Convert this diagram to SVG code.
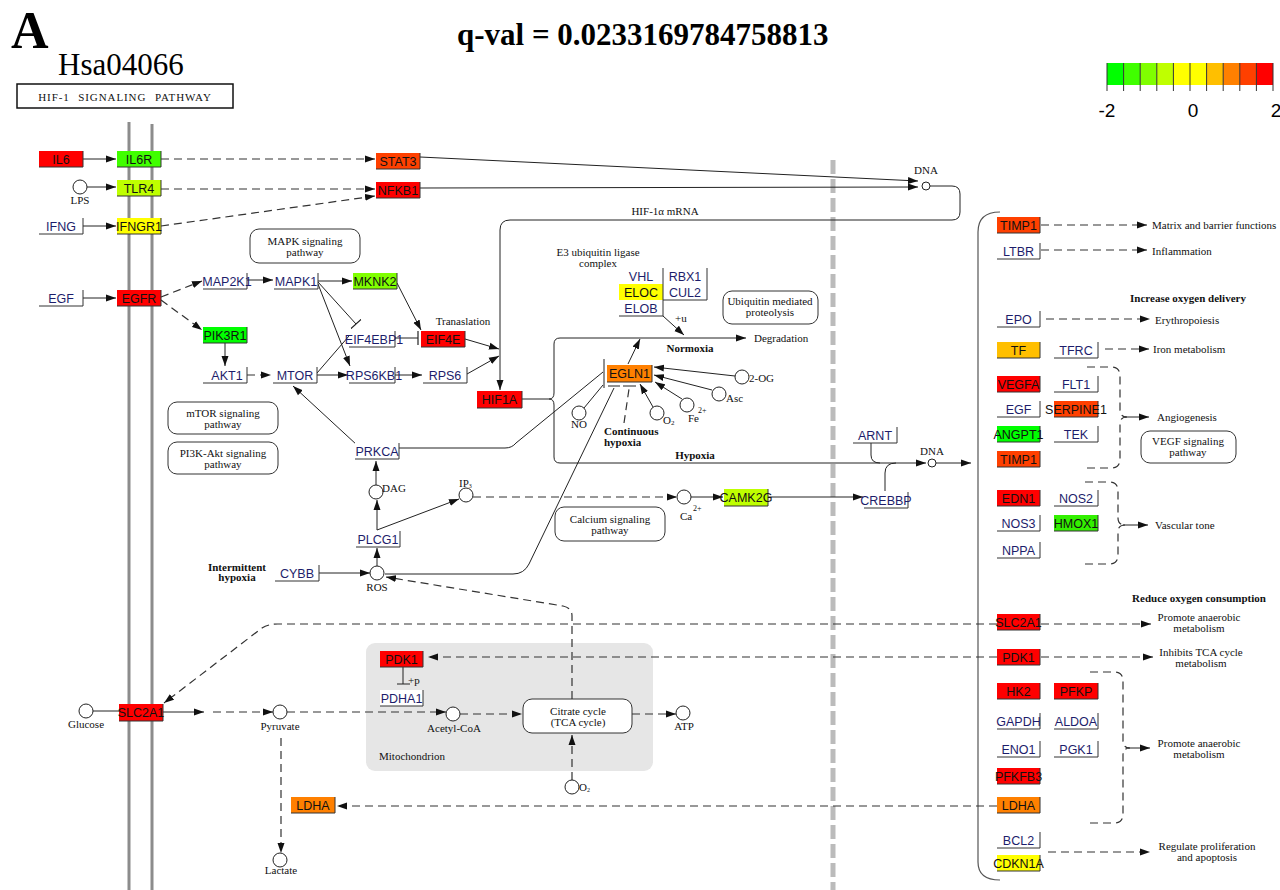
<svg xmlns="http://www.w3.org/2000/svg" width="1280" height="890" viewBox="0 0 1280 890">
<defs>
<style>
.gn path{fill:none;stroke:#333;stroke-width:1}
.gn text{font-family:"Liberation Sans",Arial,sans-serif;font-size:12.5px;text-anchor:middle;fill:#111}
.gn text.w{fill:#1d1d6b}
.ln{fill:none;stroke:#222;stroke-width:1}
.ds{fill:none;stroke:#333;stroke-width:1.2;stroke-dasharray:8 5}
.lb{font-family:"Liberation Serif","Times New Roman",serif;font-size:11px;fill:#111}
.bd{font-weight:bold}
.mid{text-anchor:middle}
.cpd{fill:#fff;stroke:#222;stroke-width:1}
.pw{fill:#fff;stroke:#333;stroke-width:1}
.sm{font-size:8px}
</style>
<marker id="ar" markerUnits="userSpaceOnUse" markerWidth="11" markerHeight="8" refX="10" refY="4" orient="auto"><path d="M0,0.5L10,4L0,7.5z" fill="#111"/></marker>
<marker id="inh" markerUnits="userSpaceOnUse" markerWidth="3" markerHeight="14" refX="1.5" refY="7" orient="auto"><path d="M1.5,0V14" stroke="#222" stroke-width="1.2"/></marker>
</defs>
<rect width="1280" height="890" fill="#fff"/>

<!-- titles -->
<g id="titles">
<text x="11" y="48" font-family="Liberation Serif,serif" font-size="52" font-weight="bold">A</text>
<text x="58" y="75" font-family="Liberation Serif,serif" font-size="31">Hsa04066</text>
<rect x="17" y="84" width="216" height="24" fill="#fff" stroke="#111" stroke-width="1.5"/>
<text x="125" y="101" class="lb mid" font-size="12.5" letter-spacing="0.9" word-spacing="5">HIF-1 SIGNALING PATHWAY</text>
<text x="457" y="45" font-family="Liberation Serif,serif" font-size="31" font-weight="bold">q-val = 0.0233169784758813</text>
</g>

<!-- legend -->
<g id="legend">
<rect x="1107" y="63" width="16.6" height="22" fill="#00FF00"/>
<rect x="1123.6" y="63" width="16.6" height="22" fill="#40FF00"/>
<rect x="1140.2" y="63" width="16.6" height="22" fill="#80FF00"/>
<rect x="1156.8" y="63" width="16.6" height="22" fill="#BFFF00"/>
<rect x="1173.4" y="63" width="16.6" height="22" fill="#FFFF00"/>
<rect x="1190" y="63" width="16.6" height="22" fill="#FFFF00"/>
<rect x="1206.6" y="63" width="16.6" height="22" fill="#FFBF00"/>
<rect x="1223.2" y="63" width="16.6" height="22" fill="#FF8000"/>
<rect x="1239.8" y="63" width="16.6" height="22" fill="#FF4000"/>
<rect x="1256.4" y="63" width="16.6" height="22" fill="#FF0000"/>
<path d="M1107 63V91M1123.6 63V91M1140.2 63V91M1156.8 63V91M1173.4 63V91M1190 63V91M1206.6 63V91M1223.2 63V91M1239.8 63V91M1256.4 63V91M1273 63V91" stroke="#333" stroke-width="1"/>
<text x="1107" y="117" font-family="Liberation Sans,Arial,sans-serif" font-size="19" text-anchor="middle">-2</text>
<text x="1193" y="117" font-family="Liberation Sans,Arial,sans-serif" font-size="19" text-anchor="middle">0</text>
<text x="1276" y="117" font-family="Liberation Sans,Arial,sans-serif" font-size="19" text-anchor="middle">2</text>
</g>

<!-- compartments -->
<g id="compartments">
<path d="M129 122V890M152 124V890" stroke="#8c8c8c" stroke-width="3"/>
<path d="M833 160V890" stroke="#bbb" stroke-width="5" stroke-dasharray="14 5"/>
<rect x="366" y="643" width="287" height="128" rx="9" fill="#e6e6e6"/>
<text x="379" y="760" class="lb">Mitochondrion</text>
<path d="M1000 212Q978 212 978 232V862Q978 880 1000 880" fill="none" stroke="#555" stroke-width="1.2"/>
</g>

<!-- connectors -->
<g id="connectors">
<path class="ln" d="M83 159H116" marker-end="url(#ar)"/>
<path class="ln" d="M87 187H116" marker-end="url(#ar)"/>
<path class="ln" d="M83 226H116" marker-end="url(#ar)"/>
<path class="ds" d="M161 159H375" marker-end="url(#ar)"/>
<path class="ds" d="M161 189H375" marker-end="url(#ar)"/>
<path class="ds" d="M161 226L375 196" marker-end="url(#ar)"/>
<path class="ln" d="M420 157L918 181" marker-end="url(#ar)"/>
<path class="ln" d="M420 188L918 187" marker-end="url(#ar)"/>
<path class="ln" d="M930 186H952Q960 186 960 194V212Q960 220 952 220H510Q500 220 500 230V390" marker-end="url(#ar)"/>
<path class="ln" d="M83 298H116" marker-end="url(#ar)"/>
<path class="ds" d="M161 297L202 281" marker-end="url(#ar)"/>
<path class="ds" d="M161 300L202 330" marker-end="url(#ar)"/>
<path class="ln" d="M247 280H273" marker-end="url(#ar)"/>
<path class="ln" d="M318 281H352" marker-end="url(#ar)"/>
<path class="ln" d="M397 283L421 330" marker-end="url(#ar)"/>
<path class="ln" d="M318 282L356 324" marker-end="url(#inh)"/>
<path class="ln" d="M318 284L350 366" marker-end="url(#ar)"/>
<path class="ln" d="M225 343V366" marker-end="url(#ar)"/>
<path class="ds" d="M247 375H271" stroke-dasharray="5 4" marker-end="url(#ar)"/>
<path class="ln" d="M317 375H348" marker-end="url(#ar)"/>
<path class="ln" d="M317 373L349 336"/>
<path class="ln" d="M395 338H418" marker-end="url(#inh)"/>
<path class="ln" d="M395 375H422" marker-end="url(#ar)"/>
<path class="ln" d="M465 339L499 349" marker-end="url(#ar)"/>
<path class="ln" d="M467 374L499 356" marker-end="url(#ar)"/>
<path class="ln" d="M357 445L293 386" marker-end="url(#ar)"/>
<path class="ln" d="M376 485V461" marker-end="url(#ar)"/>
<path class="ln" d="M377 530V500" marker-end="url(#ar)"/>
<path class="ln" d="M377 530L459 499" marker-end="url(#ar)"/>
<path class="ln" d="M377 566V548" marker-end="url(#ar)"/>
<path class="ln" d="M319 573H370" marker-end="url(#ar)"/>
<path class="ds" d="M473 497H677" marker-end="url(#ar)"/>
<path class="ln" d="M691 497H723" marker-end="url(#ar)"/>
<path class="ln" d="M768 497H863" marker-end="url(#ar)"/>
<path class="ln" d="M885 491V473Q885 463 896 463"/>
<path class="ln" d="M871 443V455Q871 463 880 463"/>
<path class="ln" d="M522 399H549"/>
<path class="ln" d="M549 399Q554 399 554 393V344Q554 338 560 338H746" marker-end="url(#ar)"/>
<path class="ln" d="M549 399Q554 399 554 405V457Q554 463 560 463H926" marker-end="url(#ar)"/>
<path class="ln" d="M936 463H971" marker-end="url(#ar)"/>
<path class="ln" d="M399 448H505Q512 448 516 443L603 372"/>
<path class="ln" d="M604 359V388" stroke-width="1.3"/>
<path class="ln" d="M584 408L603 385"/>
<path class="ln" d="M385 574H513Q524 574 529 564L614 388"/>
<path class="ln" d="M608 386H620M623 386H636" stroke-width="1.3"/>
<path class="ds" d="M624 423L629 389" stroke-dasharray="6 4"/>
<path class="ln" d="M628 364L640 339" marker-end="url(#ar)"/>
<path class="ln" d="M735 376L654 367" marker-end="url(#ar)"/>
<path class="ln" d="M712 390L654 375" marker-end="url(#ar)"/>
<path class="ln" d="M682 399L655 382" marker-end="url(#ar)"/>
<path class="ln" d="M653 407L640 384" marker-end="url(#ar)"/>
<path class="ln" d="M663 316L684 335" marker-end="url(#ar)"/>
<path class="ln" d="M93 711H119"/>
<path class="ln" d="M163 712H204" marker-end="url(#ar)"/>
<path class="ds" d="M213 712H273" marker-end="url(#ar)"/>
<path class="ds" d="M287 712H446" marker-end="url(#ar)"/>
<path class="ds" d="M460 714H522" marker-end="url(#ar)"/>
<path class="ds" d="M632 714H676" marker-end="url(#ar)"/>
<path class="ds" d="M572 780V735" marker-end="url(#ar)"/>
<path class="ds" d="M572 699V616Q572 608 563 606L386 577" marker-end="url(#ar)"/>
<path class="ds" d="M281 738V853" marker-end="url(#ar)"/>
<path class="ln" d="M403 667V684M397 684H410"/>
<path class="ds" d="M997 624H278Q268 624 262 628L164 703" marker-end="url(#ar)"/>
<path class="ds" d="M997 657H428" marker-end="url(#ar)"/>
<path class="ds" d="M997 806H337" marker-end="url(#ar)"/>
<path class="ds" d="M1041 225H1147" marker-end="url(#ar)"/>
<path class="ds" d="M1041 250H1147" marker-end="url(#ar)"/>
<path class="ds" d="M1046 319H1150" marker-end="url(#ar)"/>
<path class="ds" d="M1105 349H1149" marker-end="url(#ar)"/>
<path class="ds" d="M1087 367H1111Q1120 367 1120 376V410Q1120 417 1127 417M1087 468H1111Q1120 468 1120 459V424Q1120 417 1127 417"/>
<path class="ln" d="M1125 417H1149" marker-end="url(#ar)"/>
<path class="ds" d="M1085 482H1109Q1118 482 1118 491V518Q1118 525 1125 525M1085 564H1109Q1118 564 1118 555V532Q1118 525 1125 525"/>
<path class="ln" d="M1123 525H1148" marker-end="url(#ar)"/>
<path class="ds" d="M1041 624H1151" marker-end="url(#ar)"/>
<path class="ds" d="M1041 657H1153" marker-end="url(#ar)"/>
<path class="ds" d="M1090 672H1114Q1123 672 1123 681V741Q1123 748 1130 748M1090 823H1114Q1123 823 1123 814V755Q1123 748 1130 748"/>
<path class="ln" d="M1128 748H1150" marker-end="url(#ar)"/>
<path class="ds" d="M1048 852H1150" marker-end="url(#ar)"/>
</g>

<!-- compounds -->
<g id="compounds">
<g id="c-LPS"><circle class="cpd" cx="80" cy="187" r="7"/><text x="80" y="204" class="lb mid">LPS</text></g>
<g id="c-DNA1"><circle class="cpd" cx="926" cy="186" r="4"/><text x="926" y="174" class="lb mid">DNA</text></g>
<g id="c-DNA2"><circle class="cpd" cx="932" cy="463" r="4"/><text x="932" y="455" class="lb mid">DNA</text></g>
<g id="c-ROS"><circle class="cpd" cx="377" cy="573" r="7"/><text x="377" y="591" class="lb mid">ROS</text></g>
<g id="c-DAG"><circle class="cpd" cx="376" cy="492" r="7"/><text x="382" y="492" class="lb">DAG</text></g>
<g id="c-IP3"><circle class="cpd" cx="466" cy="495" r="7"/><text x="459" y="487" class="lb" font-size="9">IP<tspan font-size="6" dy="1">3</tspan></text></g>
<g id="c-Ca"><circle class="cpd" cx="684" cy="497" r="7"/><text x="680" y="520" class="lb">Ca</text><text x="693" y="511" class="lb sm">2+</text></g>
<g id="c-NO"><circle class="cpd" cx="579" cy="413" r="7"/><text x="579" y="428" class="lb mid">NO</text></g>
<g id="c-O2a"><circle class="cpd" cx="657" cy="413" r="7"/><text x="663" y="424" class="lb">O<tspan font-size="7" dy="1">2</tspan></text></g>
<g id="c-Fe"><circle class="cpd" cx="687" cy="405" r="7"/><text x="688" y="422" class="lb">Fe</text><text x="698" y="413" class="lb sm">2+</text></g>
<g id="c-Asc"><circle class="cpd" cx="719" cy="394" r="7"/><text x="726" y="402" class="lb">Asc</text></g>
<g id="c-2OG"><circle class="cpd" cx="742" cy="377" r="7"/><text x="749" y="382" class="lb">2-OG</text></g>
<g id="c-Glucose"><circle class="cpd" cx="86" cy="711" r="7"/><text x="86" y="728" class="lb mid">Glucose</text></g>
<g id="c-Pyruvate"><circle class="cpd" cx="280" cy="712" r="7"/><text x="280" y="730" class="lb mid">Pyruvate</text></g>
<g id="c-AcCoA"><circle class="cpd" cx="453" cy="714" r="7"/><text x="454" y="732" class="lb mid">Acetyl-CoA</text></g>
<g id="c-ATP"><circle class="cpd" cx="683" cy="713" r="7"/><text x="684" y="730" class="lb mid">ATP</text></g>
<g id="c-O2b"><circle class="cpd" cx="572" cy="787" r="7"/><text x="579" y="791" class="lb" font-size="9">O<tspan font-size="6" dy="1">2</tspan></text></g>
<g id="c-Lactate"><circle class="cpd" cx="280" cy="860" r="7"/><text x="281" y="874" class="lb mid">Lactate</text></g>
</g>

<!-- pathway boxes -->
<g id="pathways">
<g id="p-MAPK"><rect class="pw" x="250" y="229" width="110" height="34" rx="9"/><text x="305" y="245" class="lb mid">MAPK signaling</text><text x="305" y="256" class="lb mid">pathway</text></g>
<g id="p-mTOR"><rect class="pw" x="168" y="402" width="110" height="32" rx="9"/><text x="223" y="417" class="lb mid">mTOR signaling</text><text x="223" y="428" class="lb mid">pathway</text></g>
<g id="p-PI3K"><rect class="pw" x="168" y="442" width="110" height="32" rx="9"/><text x="223" y="457" class="lb mid">PI3K-Akt signaling</text><text x="223" y="468" class="lb mid">pathway</text></g>
<g id="p-Ubq"><rect class="pw" x="723" y="291" width="95" height="33" rx="9"/><text x="770" y="305" class="lb mid">Ubiquitin mediated</text><text x="770" y="316" class="lb mid">proteolysis</text></g>
<g id="p-Ca"><rect class="pw" x="555" y="507" width="110" height="34" rx="9"/><text x="610" y="523" class="lb mid">Calcium signaling</text><text x="610" y="534" class="lb mid">pathway</text></g>
<g id="p-TCA"><rect class="pw" x="523" y="699" width="109" height="34" rx="9"/><text x="578" y="715" class="lb mid">Citrate cycle</text><text x="578" y="726" class="lb mid">(TCA cycle)</text></g>
<g id="p-VEGF"><rect class="pw" x="1141" y="431" width="95" height="32" rx="9"/><text x="1188" y="445" class="lb mid">VEGF signaling</text><text x="1188" y="456" class="lb mid">pathway</text></g>
</g>

<!-- labels -->
<g id="labels">
<text x="665" y="215" class="lb mid">HIF-1α mRNA</text>
<text x="598" y="256" class="lb mid">E3 ubiquitin ligase</text>
<text x="598" y="267" class="lb mid">complex</text>
<text x="675" y="322" class="lb">+u</text>
<text x="463" y="325" class="lb mid">Tranaslation</text>
<text x="754" y="342" class="lb">Degradation</text>
<text x="690" y="352" class="lb mid bd">Normoxia</text>
<text x="604" y="435" class="lb bd">Continuous</text>
<text x="604" y="446" class="lb bd">hypoxia</text>
<text x="695" y="459" class="lb mid bd">Hypoxia</text>
<text x="237" y="571" class="lb mid bd">Intermittent</text>
<text x="237" y="581" class="lb mid bd">hypoxia</text>
<text x="408" y="684" class="lb">+p</text>
<text x="1152" y="229" class="lb">Matrix and barrier functions</text>
<text x="1152" y="255" class="lb">Inflammation</text>
<text x="1188" y="302" class="lb mid bd">Increase oxygen delivery</text>
<text x="1155" y="324" class="lb">Erythropoiesis</text>
<text x="1153" y="353" class="lb">Iron metabolism</text>
<text x="1157" y="421" class="lb">Angiogenesis</text>
<text x="1155" y="529" class="lb">Vascular tone</text>
<text x="1199" y="602" class="lb mid bd">Reduce oxygen consumption</text>
<text x="1199" y="621" class="lb mid">Promote anaerobic</text>
<text x="1199" y="632" class="lb mid">metabolism</text>
<text x="1201" y="656" class="lb mid">Inhibits TCA cycle</text>
<text x="1201" y="667" class="lb mid">metabolism</text>
<text x="1199" y="747" class="lb mid">Promote anaerobic</text>
<text x="1199" y="758" class="lb mid">metabolism</text>
<text x="1207" y="850" class="lb mid">Regulate proliferation</text>
<text x="1207" y="861" class="lb mid">and apoptosis</text>
</g>

<!-- genes -->
<g id="genes">
<g id="g-IL6" class="gn"><rect x="39" y="151" width="44" height="16" fill="#FF0000"/><path d="M39 167H83V151"/><text x="61" y="163.5">IL6</text></g>
<g id="g-IL6R" class="gn"><rect x="117" y="151" width="44" height="16" fill="#40FF00"/><path d="M117 167H161V151"/><text x="139" y="163.5">IL6R</text></g>
<g id="g-STAT3" class="gn"><rect x="376" y="153" width="44" height="16" fill="#FF4000"/><path d="M376 169H420V153"/><text x="398" y="165.5">STAT3</text></g>
<g id="g-TLR4" class="gn"><rect x="117" y="180" width="44" height="16" fill="#BFFF00"/><path d="M117 196H161V180"/><text x="139" y="192.5">TLR4</text></g>
<g id="g-NFKB1" class="gn"><rect x="376" y="182" width="44" height="16" fill="#FF0000"/><path d="M376 198H420V182"/><text x="398" y="194.5">NFKB1</text></g>
<g id="g-IFNG" class="gn"><rect x="39" y="218" width="44" height="16" fill="#fff"/><path d="M39 234H83V218"/><text class="w" x="61" y="230.5">IFNG</text></g>
<g id="g-IFNGR1" class="gn"><rect x="117" y="218" width="44" height="16" fill="#FFFF00"/><path d="M117 234H161V218"/><text x="139" y="230.5">IFNGR1</text></g>
<g id="g-EGF" class="gn"><rect x="39" y="290" width="44" height="16" fill="#fff"/><path d="M39 306H83V290"/><text class="w" x="61" y="302.5">EGF</text></g>
<g id="g-EGFR" class="gn"><rect x="117" y="290" width="44" height="16" fill="#FF0000"/><path d="M117 306H161V290"/><text x="139" y="302.5">EGFR</text></g>
<g id="g-MAP2K1" class="gn"><rect x="203" y="273" width="44" height="16" fill="#fff"/><path d="M203 289H247V273"/><text class="w" x="227" y="285.5">MAP2K1</text></g>
<g id="g-MAPK1" class="gn"><rect x="274" y="273" width="44" height="16" fill="#fff"/><path d="M274 289H318V273"/><text class="w" x="296" y="285.5">MAPK1</text></g>
<g id="g-MKNK2" class="gn"><rect x="353" y="273" width="44" height="16" fill="#80FF00"/><path d="M353 289H397V273"/><text x="375" y="285.5">MKNK2</text></g>
<g id="g-PIK3R1" class="gn"><rect x="203" y="327" width="44" height="16" fill="#00FF00"/><path d="M203 343H247V327"/><text x="225" y="339.5">PIK3R1</text></g>
<g id="g-EIF4EBP1" class="gn"><rect x="349" y="331" width="46" height="16" fill="#fff"/><path d="M349 347H395V331"/><text class="w" x="374" y="343.5">EIF4EBP1</text></g>
<g id="g-EIF4E" class="gn"><rect x="421" y="331" width="44" height="16" fill="#FF0000"/><path d="M421 347H465V331"/><text x="443" y="343.5">EIF4E</text></g>
<g id="g-AKT1" class="gn"><rect x="203" y="367" width="44" height="16" fill="#fff"/><path d="M203 383H247V367"/><text class="w" x="227" y="379.5">AKT1</text></g>
<g id="g-MTOR" class="gn"><rect x="273" y="367" width="44" height="16" fill="#fff"/><path d="M273 383H317V367"/><text class="w" x="295" y="379.5">MTOR</text></g>
<g id="g-RPS6KB1" class="gn"><rect x="349" y="367" width="46" height="16" fill="#fff"/><path d="M349 383H395V367"/><text class="w" x="374" y="379.5">RPS6KB1</text></g>
<g id="g-RPS6" class="gn"><rect x="423" y="367" width="44" height="16" fill="#fff"/><path d="M423 383H467V367"/><text class="w" x="445" y="379.5">RPS6</text></g>
<g id="g-HIF1A" class="gn"><rect x="477" y="391" width="45" height="17" fill="#FF0000"/><path d="M477 408H522V391"/><text x="499.5" y="404">HIF1A</text></g>
<g id="g-PRKCA" class="gn"><rect x="355" y="443" width="44" height="16" fill="#fff"/><path d="M355 459H399V443"/><text class="w" x="377" y="455.5">PRKCA</text></g>
<g id="g-PLCG1" class="gn"><rect x="356" y="531" width="44" height="16" fill="#fff"/><path d="M356 547H400V531"/><text class="w" x="378" y="543.5">PLCG1</text></g>
<g id="g-CYBB" class="gn"><rect x="275" y="565" width="44" height="16" fill="#fff"/><path d="M275 581H319V565"/><text class="w" x="297" y="577.5">CYBB</text></g>
<g id="g-CAMK2G" class="gn"><rect x="724" y="489" width="44" height="17" fill="#BFFF00"/><path d="M724 506H768V489"/><text x="746" y="502">CAMK2G</text></g>
<g id="g-CREBBP" class="gn"><rect x="864" y="492" width="44" height="16" fill="#fff"/><path d="M864 508H908V492"/><text class="w" x="886" y="504.5">CREBBP</text></g>
<g id="g-ARNT" class="gn"><rect x="853" y="427" width="44" height="16" fill="#fff"/><path d="M853 443H897V427"/><text class="w" x="875" y="439.5">ARNT</text></g>
<g id="g-EGLN1" class="gn"><rect x="607" y="365" width="45" height="17" fill="#FF8000"/><path d="M607 382H652V365"/><text x="629.5" y="378">EGLN1</text></g>
<g id="g-VHL" class="gn"><rect x="619" y="268" width="44" height="16" fill="#fff"/><text class="w" x="641" y="280.5">VHL</text></g>
<g id="g-RBX1" class="gn"><rect x="663" y="268" width="44" height="16" fill="#fff"/><path d="M707 268V284"/><text class="w" x="685" y="280.5">RBX1</text></g>
<g id="g-ELOC" class="gn"><rect x="619" y="284" width="44" height="16" fill="#FFFF00"/><text x="641" y="296.5">ELOC</text></g>
<g id="g-CUL2" class="gn"><rect x="663" y="284" width="44" height="16" fill="#fff"/><path d="M663 268V300H707V284"/><text class="w" x="685" y="296.5">CUL2</text></g>
<g id="g-ELOB" class="gn"><rect x="619" y="300" width="44" height="16" fill="#fff"/><path d="M619 316H663V300"/><text class="w" x="641" y="312.5">ELOB</text></g>
<g id="g-PDK1m" class="gn"><rect x="380" y="651" width="43" height="16" fill="#FF0000"/><path d="M380 667H423V651"/><text x="401.5" y="663.5">PDK1</text></g>
<g id="g-PDHA1" class="gn"><rect x="380" y="690" width="43" height="16" fill="#fff"/><path d="M380 706H423V690"/><text class="w" x="401.5" y="702.5">PDHA1</text></g>
<g id="g-SLC2A1m" class="gn"><rect x="119" y="704" width="44" height="17" fill="#FF0000"/><path d="M119 721H163V704"/><text x="141" y="717">SLC2A1</text></g>
<g id="g-LDHAl" class="gn"><rect x="291" y="797" width="44" height="16" fill="#FF8000"/><path d="M291 813H335V797"/><text x="313" y="809.5">LDHA</text></g>

<g id="g-TIMP1a" class="gn"><rect x="997" y="217" width="43" height="16" fill="#FF4000"/><path d="M997 233H1040V217"/><text x="1018.5" y="229.5">TIMP1</text></g>
<g id="g-LTBR" class="gn"><rect x="997" y="243" width="43" height="16" fill="#fff"/><path d="M997 259H1040V243"/><text class="w" x="1018.5" y="255.5">LTBR</text></g>
<g id="g-EPO" class="gn"><rect x="997" y="311" width="43" height="16" fill="#fff"/><path d="M997 327H1040V311"/><text class="w" x="1018.5" y="323.5">EPO</text></g>
<g id="g-TF" class="gn"><rect x="997" y="342" width="43" height="16" fill="#FFBF00"/><path d="M997 358H1040V342"/><text x="1018.5" y="354.5">TF</text></g>
<g id="g-TFRC" class="gn"><rect x="1054" y="342" width="44" height="16" fill="#fff"/><path d="M1054 358H1098V342"/><text class="w" x="1076" y="354.5">TFRC</text></g>
<g id="g-VEGFA" class="gn"><rect x="997" y="376" width="43" height="16" fill="#FF0000"/><path d="M997 392H1040V376"/><text x="1018.5" y="388.5">VEGFA</text></g>
<g id="g-FLT1" class="gn"><rect x="1054" y="376" width="44" height="16" fill="#fff"/><path d="M1054 392H1098V376"/><text class="w" x="1076" y="388.5">FLT1</text></g>
<g id="g-EGF2" class="gn"><rect x="997" y="401" width="43" height="16" fill="#fff"/><path d="M997 417H1040V401"/><text class="w" x="1018.5" y="413.5">EGF</text></g>
<g id="g-SERPINE1" class="gn"><rect x="1054" y="401" width="44" height="16" fill="#FF4000"/><path d="M1054 417H1098V401"/><text x="1076" y="413.5">SERPINE1</text></g>
<g id="g-ANGPT1" class="gn"><rect x="997" y="426" width="43" height="16" fill="#00FF00"/><path d="M997 442H1040V426"/><text x="1018.5" y="438.5">ANGPT1</text></g>
<g id="g-TEK" class="gn"><rect x="1054" y="426" width="44" height="16" fill="#fff"/><path d="M1054 442H1098V426"/><text class="w" x="1076" y="438.5">TEK</text></g>
<g id="g-TIMP1b" class="gn"><rect x="997" y="451" width="43" height="16" fill="#FF4000"/><path d="M997 467H1040V451"/><text x="1018.5" y="463.5">TIMP1</text></g>
<g id="g-EDN1" class="gn"><rect x="997" y="490" width="43" height="16" fill="#FF0000"/><path d="M997 506H1040V490"/><text x="1018.5" y="502.5">EDN1</text></g>
<g id="g-NOS2" class="gn"><rect x="1054" y="490" width="44" height="16" fill="#fff"/><path d="M1054 506H1098V490"/><text class="w" x="1076" y="502.5">NOS2</text></g>
<g id="g-NOS3" class="gn"><rect x="997" y="515" width="43" height="16" fill="#fff"/><path d="M997 531H1040V515"/><text class="w" x="1018.5" y="527.5">NOS3</text></g>
<g id="g-HMOX1" class="gn"><rect x="1054" y="515" width="44" height="16" fill="#33F000"/><path d="M1054 531H1098V515"/><text x="1076" y="527.5">HMOX1</text></g>
<g id="g-NPPA" class="gn"><rect x="997" y="542" width="43" height="16" fill="#fff"/><path d="M997 558H1040V542"/><text class="w" x="1018.5" y="554.5">NPPA</text></g>
<g id="g-SLC2A1r" class="gn"><rect x="997" y="614" width="43" height="16" fill="#FF0000"/><path d="M997 630H1040V614"/><text x="1018.5" y="626.5">SLC2A1</text></g>
<g id="g-PDK1r" class="gn"><rect x="997" y="649" width="43" height="16" fill="#FF0000"/><path d="M997 665H1040V649"/><text x="1018.5" y="661.5">PDK1</text></g>
<g id="g-HK2" class="gn"><rect x="997" y="683" width="43" height="16" fill="#FF0000"/><path d="M997 699H1040V683"/><text x="1018.5" y="695.5">HK2</text></g>
<g id="g-PFKP" class="gn"><rect x="1054" y="683" width="44" height="16" fill="#FF0000"/><path d="M1054 699H1098V683"/><text x="1076" y="695.5">PFKP</text></g>
<g id="g-GAPDH" class="gn"><rect x="997" y="713" width="43" height="16" fill="#fff"/><path d="M997 729H1040V713"/><text class="w" x="1018.5" y="725.5">GAPDH</text></g>
<g id="g-ALDOA" class="gn"><rect x="1054" y="713" width="44" height="16" fill="#fff"/><path d="M1054 729H1098V713"/><text class="w" x="1076" y="725.5">ALDOA</text></g>
<g id="g-ENO1" class="gn"><rect x="997" y="741" width="43" height="16" fill="#fff"/><path d="M997 757H1040V741"/><text class="w" x="1018.5" y="753.5">ENO1</text></g>
<g id="g-PGK1" class="gn"><rect x="1054" y="741" width="44" height="16" fill="#fff"/><path d="M1054 757H1098V741"/><text class="w" x="1076" y="753.5">PGK1</text></g>
<g id="g-PFKFB3" class="gn"><rect x="997" y="768" width="43" height="16" fill="#FF0000"/><path d="M997 784H1040V768"/><text x="1018.5" y="780.5">PFKFB3</text></g>
<g id="g-LDHAr" class="gn"><rect x="997" y="797" width="43" height="16" fill="#FF8000"/><path d="M997 813H1040V797"/><text x="1018.5" y="809.5">LDHA</text></g>
<g id="g-BCL2" class="gn"><rect x="997" y="832" width="43" height="16" fill="#fff"/><path d="M997 848H1040V832"/><text class="w" x="1018.5" y="844.5">BCL2</text></g>
<g id="g-CDKN1A" class="gn"><rect x="997" y="855" width="43" height="16" fill="#FFFF00"/><path d="M997 871H1040V855"/><text x="1018.5" y="867.5">CDKN1A</text></g>
</g>
</svg>
